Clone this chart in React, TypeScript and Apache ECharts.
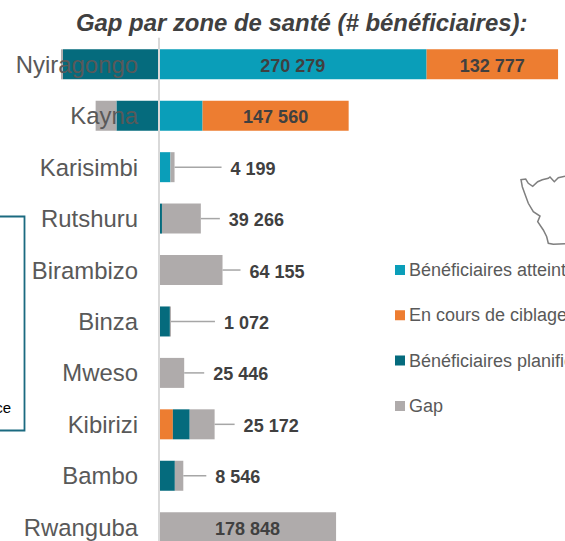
import React, { useEffect, useRef } from "react";
import * as echarts from "echarts";

const FONT = '"Liberation Sans", Arial, sans-serif';

const TITLE = "Gap par zone de santé (# bénéficiaires):";
const zones = ["Nyiragongo", "Kayna", "Karisimbi", "Rutshuru", "Birambizo", "Binza", "Mweso", "Kibirizi", "Bambo", "Rwanguba"];
const seriesNames = ["Bénéficiaires atteints", "En cours de ciblage", "Bénéficiaires planifiés", "Gap"];
const seriesColors = ["#0A9EB9", "#ED7D31", "#056B7D", "#AFABAB"];

const atteints = [270279, 44000, 11500, 0, 0, 0, 0, 0, 0, 0];
const ciblage = [132777, 147560, 0, 0, 0, 0, 0, 14000, 0, 0];
const planifies = [-97000, -43000, 0, 3000, 0, 11000, 0, 17000, 16000, 0];
const gap = [-2000, -21000, 4199, 39266, 64155, 1072, 25446, 25172, 8546, 178848];

// which values are printed inside their bar
const atteintsInside = ["Nyiragongo"];
const ciblageInside = ["Nyiragongo", "Kayna"];
const gapInside = ["Rwanguba"];
// length of the leader line towards the outside label, by zone
const leaderLength: Record<string, number> = { Karisimbi: 47, Rutshuru: 19, Birambizo: 18, Binza: 44, Mweso: 20, Kibirizi: 20, Bambo: 23 };

const PX = 1010; // value units for one pixel
const ZERO_X = 159;
const WIDTH = 565;
const HEIGHT = 541;

const fmt = (v: number) => String(Math.abs(v)).replace(/\B(?=(\d{3})+(?!\d))/g, " ");

const MAP_PATH =
  "M565 176.3L558.3 177.7L554.3 181.7L550 177L548.3 178.3L542.3 179.7L537.7 181.7L532.7 186.3L528.3 183.3L525.7 179L521 179.7" +
  "L522.3 186.7L525 194.3L528.3 203.3L533.3 211.7L540 216L537.7 221.7L543.3 230L546.7 236.7L548.3 243.3L553.3 244.3L565 243.7";
echarts.graphic.registerShape("mapOutline", echarts.graphic.extendPath(MAP_PATH, {}) as any);

const barLabel = { show: true, position: "inside", offset: [0, 1.5], color: "#404040", fontFamily: FONT, fontSize: 18, fontWeight: "bold", formatter: (p: any) => fmt(p.value) };

const withLabels = (values: number[], inside: string[]) =>
  values.map((v, i) => ({ value: v === 0 ? null : v, label: inside.includes(zones[i]) ? barLabel : { show: false } }));

const positiveEnd = (i: number) => [atteints, ciblage, planifies, gap].reduce((s, a) => s + Math.max(a[i], 0), 0);

const calloutData = zones
  .map((z, i) => ({ z, i }))
  .filter(({ z }) => leaderLength[z] != null)
  .map(({ z, i }) => [positiveEnd(i), i, gap[i], leaderLength[z]]);

export default function App() {
  const ref = useRef<HTMLDivElement>(null);
  useEffect(() => {
    const chart = echarts.init(ref.current!, null, { renderer: "svg" });
    const common = { type: "bar", stack: "total", barWidth: 30, z: 2 };
    chart.setOption({
      animation: false,
      backgroundColor: "#ffffff",
      title: {
        text: TITLE,
        left: 71,
        top: 5,
        textStyle: { fontFamily: FONT, fontSize: 23.9, fontWeight: "bold", fontStyle: "italic", color: "#404040" },
      },
      grid: { left: 0, width: WIDTH, top: 38.6, height: 514.3, outerBoundsMode: "none" },
      xAxis: { type: "value", min: -ZERO_X * PX, max: (WIDTH - ZERO_X) * PX, show: false },
      yAxis: {
        type: "category",
        data: zones,
        inverse: true,
        z: 5,
        offset: -ZERO_X,
        axisLine: { show: true, onZero: false, lineStyle: { color: "#D9D9D9", width: 2 } },
        axisTick: { show: false },
        axisLabel: { interval: 0, margin: 21, color: "#595959", fontFamily: FONT, fontSize: 23.9 },
      },
      legend: {
        data: seriesNames.map((name, i) => ({ name, itemStyle: { color: seriesColors[i], borderColor: seriesColors[i], borderWidth: 2 } })),
        orient: "vertical",
        left: 390,
        top: 256,
        icon: "rect",
        itemWidth: 8,
        itemHeight: 8,
        itemGap: 27.3,
        textStyle: { color: "#595959", fontFamily: FONT, fontSize: 18 },
      },
      series: [
        { ...common, name: seriesNames[0], itemStyle: { color: seriesColors[0] }, data: withLabels(atteints, atteintsInside) },
        { ...common, name: seriesNames[1], itemStyle: { color: seriesColors[1] }, data: withLabels(ciblage, ciblageInside) },
        { ...common, name: seriesNames[2], itemStyle: { color: seriesColors[2] }, data: withLabels(planifies, []) },
        { ...common, name: seriesNames[3], itemStyle: { color: seriesColors[3] }, data: withLabels(gap, gapInside) },
        {
          type: "custom",
          name: "callouts",
          silent: true,
          clip: false,
          z: 3,
          encode: { x: 0, y: 1 },
          data: calloutData,
          renderItem: (_: any, api: any) => {
            const [x, y] = api.coord([api.value(0), api.value(1)]);
            const len = api.value(3);
            return {
              type: "group",
              children: [
                { type: "line", shape: { x1: x, y1: y, x2: x + len, y2: y }, style: { stroke: "#A6A6A6", lineWidth: 1.5 } },
                {
                  type: "text",
                  x: x + len + 9,
                  y: y + 1.5,
                  style: { text: fmt(api.value(2)), fontFamily: FONT, fontSize: 18, fontWeight: "bold", fill: "#404040", verticalAlign: "middle", align: "left" },
                },
              ],
            };
          },
        },
      ],
      graphic: [
        { type: "rect", shape: { x: -20, y: 216.5, width: 44.5, height: 214 }, style: { fill: "none", stroke: "#1B6A80", lineWidth: 1.8 } },
        { type: "text", x: 11, y: 407, style: { text: "ce", align: "right", verticalAlign: "middle", fontFamily: FONT, fontSize: 15, fill: "#000000" } },
        { type: "mapOutline", x: 0, y: 0, style: { fill: "none", stroke: "#7F7F7F", lineWidth: 1.5 } },
      ],
    });
    return () => chart.dispose();
  }, []);
  return <div ref={ref} style={{ position: "absolute", left: 0, top: 0, width: WIDTH, height: HEIGHT, overflow: "hidden" }} />;
}
